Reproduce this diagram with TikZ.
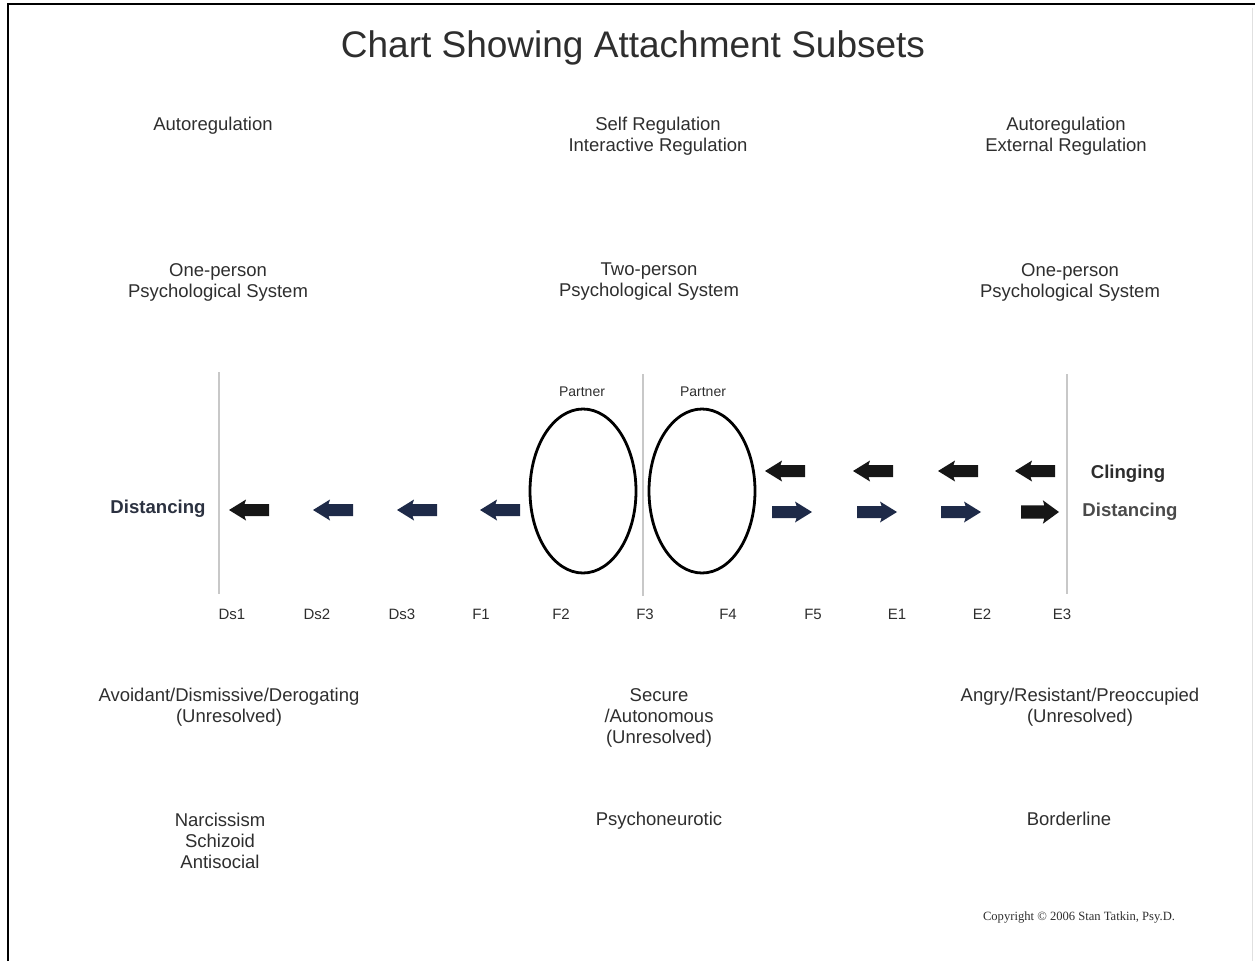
\documentclass[tikz,border=0pt]{standalone}
\usepackage{fontspec}
\setmainfont{Liberation Sans}
\newfontfamily\serifcopy{Liberation Serif}
\definecolor{txt}{HTML}{2E2E2E}
\definecolor{navy}{HTML}{1E2A48}
\definecolor{blk}{HTML}{161616}
\definecolor{vline}{HTML}{C8C8C8}
\definecolor{distl}{HTML}{2B3140}
\definecolor{distr}{HTML}{4A4A4A}
\tikzset{
  body/.style={text=txt, font=\fontsize{18.5}{21}\selectfont, align=center, inner sep=0pt},
  lab/.style={text=txt, font=\fontsize{15}{17}\selectfont, inner sep=0pt},
  partnerlab/.style={text=txt, font=\fontsize{14}{16}\selectfont, inner sep=0pt},
  boldlab/.style={font=\fontsize{18.6}{21}\selectfont\bfseries, inner sep=0pt},
  sep/.style={draw=vline, line width=2pt},
  oval/.style={draw=black, line width=2.8pt},
  larr/.pic={\fill (0,0) -- (17,-10.5) -- (15.5,-6) -- (40,-6) -- (40,6) -- (15.5,6) -- (17,10.5) -- cycle;},
}
\begin{document}
\begin{tikzpicture}[x=1pt,y=-1pt]
\useasboundingbox (0,0) rectangle (1255,961);
% frame
\draw[line width=2.5pt, black] (8,961) -- (8,4) -- (1255,4);
\draw[line width=1pt, black!12] (1252,8) -- (1252,961);
% title
\node[text=txt, font=\fontsize{37}{40}\selectfont, inner sep=0pt] (title) at (633,48) {Chart Showing Attachment Subsets};
% top rows
\node[body] (reg1) at (213,126) {Autoregulation};
\node[body] (reg2) at (658,136) {Self Regulation\\Interactive Regulation};
\node[body] (reg3) at (1066,136) {Autoregulation\\External Regulation};
\node[body] (sys1) at (218,282) {One-person\\Psychological System};
\node[body] (sys2) at (649,282) {Two-person\\Psychological System};
\node[body] (sys3) at (1070,282) {One-person\\Psychological System};
% separators
\draw[sep] (219,372) -- (219,594);
\draw[sep] (643,374) -- (643,596);
\draw[sep] (1067,374) -- (1067,594);
% partners
\node[partnerlab] (p1) at (582,392) {Partner};
\node[partnerlab] (p2) at (703,392) {Partner};
\draw[oval] (583,491) ellipse [x radius=53, y radius=82];
\draw[oval] (702,491) ellipse [x radius=53, y radius=82];
% left side
\node[boldlab, text=distl] (distL) at (158,509) {Distancing};
\pic[blk] at (229,510) {larr};
\pic[navy] at (313,510) {larr};
\pic[navy] at (397,510) {larr};
\pic[navy] at (480,510) {larr};
% right side: clinging (left-pointing, black)
\pic[blk] at (765,471) {larr};
\pic[blk] at (853,471) {larr};
\pic[blk] at (938,471) {larr};
\pic[blk] at (1015,471) {larr};
% right side: distancing (right-pointing)
\pic[navy, xscale=-1] at (812,512) {larr};
\pic[navy, xscale=-1] at (897,512) {larr};
\pic[navy, xscale=-1] at (981,512) {larr};
\pic[blk, xscale=-0.95, yscale=1.12] at (1059,512) {larr};
\node[boldlab, text=blk!90] (cling) at (1128,474) {Clinging};
\node[boldlab, text=distr] (distR) at (1130,512) {Distancing};
% scale labels
\node[lab] (ds1) at (232,614) {Ds1};
\node[lab] (ds2) at (317,614) {Ds2};
\node[lab] (ds3) at (402,614) {Ds3};
\node[lab] (f1) at (481,614) {F1};
\node[lab] (f2) at (561,614) {F2};
\node[lab] (f3) at (645,614) {F3};
\node[lab] (f4) at (728,614) {F4};
\node[lab] (f5) at (813,614) {F5};
\node[lab] (e1) at (897,614) {E1};
\node[lab] (e2) at (982,614) {E2};
\node[lab] (e3) at (1062,614) {E3};
% attachment categories
\node[body] (cat1) at (229,707) {Avoidant/Dismissive/Derogating\\(Unresolved)};
\node[body] (cat2) at (659,718) {Secure\\/Autonomous\\(Unresolved)};
\node[body] (cat3) at (1080,707) {Angry/Resistant/Preoccupied\\(Unresolved)};
% diagnoses
\node[body] (dx1) at (220,841) {Narcissism\\Schizoid\\Antisocial};
\node[body, anchor=north] (dx2) at (659,812) {Psychoneurotic};
\node[body, anchor=north] (dx3) at (1069,812) {Borderline};
% copyright
\node[text=txt, font=\serifcopy\fontsize{12.6}{14}\selectfont, inner sep=0pt] (copy) at (1079,917) {Copyright \textcopyright{} 2006 Stan Tatkin, Psy.D.};
\end{tikzpicture}
\end{document}
